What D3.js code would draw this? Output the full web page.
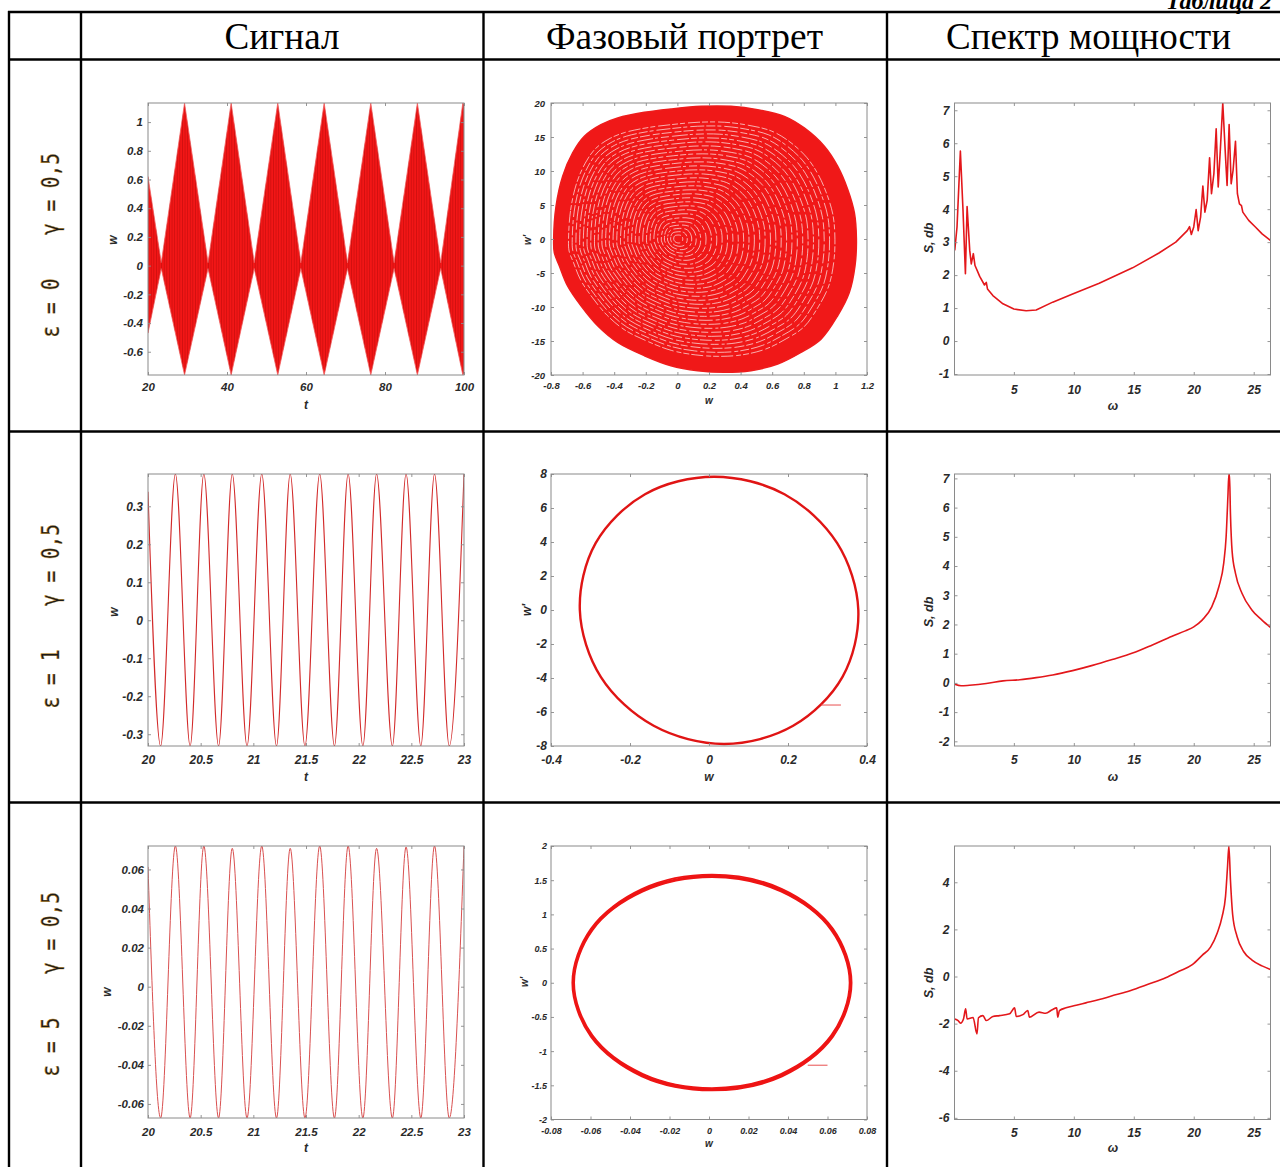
<!DOCTYPE html>
<html><head><meta charset="utf-8">
<script src="https://cdn.jsdelivr.net/npm/d3@7"></script>
<style>body{margin:0;background:#fff}svg{display:block}</style></head>
<body><svg id="c" width="1280" height="1167"></svg>
<script>
// ---------------- DATA ----------------
const columnTitles = ["Сигнал", "Фазовый портрет", "Спектр мощности"];
const rowEps = ["ε = 0", "ε = 1", "ε = 5"];
const rowGamma = ["γ = 0,5", "γ = 0,5", "γ = 0,5"];

// Row 1 signal: beating envelope (node / peak times and amplitudes)
const sig1T     = [20, 23.36, 29.25, 35.2, 41.05, 46.9, 52.85, 58.7, 64.6, 70.5, 76.4, 82.3, 88.2, 94.1, 99.7, 100];
const sig1Upper = [0.62, 0.02, 1.133, 0.02, 1.133, 0.02, 1.133, 0.02, 1.133, 0.02, 1.133, 0.02, 1.133, 0.02, 1.133, 1.12];
const sig1Lower = [-0.47, -0.02, -0.762, -0.02, -0.762, -0.02, -0.762, -0.02, -0.762, -0.02, -0.762, -0.02, -0.762, -0.02, -0.762, -0.75];

// Rows 2,3 signal: extrema times and values
const sigExtT = [20, 20.12, 20.26, 20.40, 20.53, 20.67, 20.80, 20.94, 21.08, 21.22, 21.35, 21.49, 21.63, 21.77, 21.90, 22.04, 22.17, 22.32, 22.45, 22.59, 22.72, 22.86, 23.0];
const sig2W = [0.338, -0.331, 0.385, -0.331, 0.385, -0.331, 0.385, -0.331, 0.385, -0.331, 0.385, -0.331, 0.385, -0.331, 0.385, -0.331, 0.385, -0.331, 0.385, -0.331, 0.385, -0.331, 0.385];
const sig3W = [0.0613, -0.0672, 0.072, -0.0672, 0.072, -0.0672, 0.0708, -0.0672, 0.072, -0.0672, 0.0708, -0.0672, 0.072, -0.0672, 0.072, -0.0672, 0.0708, -0.0672, 0.0715, -0.0672, 0.072, -0.0672, 0.072];

// Row 1 phase portrait: outer boundary of the filled spiral
const ph1W = [-0.783, -0.768, -0.726, -0.663, -0.589, -0.484, -0.378, -0.209, -0.041, 0.149, 0.339, 0.508, 0.677, 0.803, 0.930, 1.014, 1.078, 1.120, 1.133, 1.124, 1.088, 1.014, 0.909, 0.782, 0.635, 0.466, 0.297, 0.128, -0.041, -0.209, -0.378, -0.505, -0.610, -0.695, -0.747, -0.779];
const ph1V = [-0.05, 4.84, 9.24, 12.67, 15.11, 16.82, 17.80, 18.63, 19.12, 19.51, 19.51, 19.02, 18.04, 16.33, 13.64, 10.71, 7.29, 3.86, -0.05, -3.96, -7.87, -11.30, -14.72, -16.68, -18.39, -19.36, -19.61, -19.36, -18.63, -17.16, -15.21, -12.76, -9.83, -6.90, -3.96, -2.0];
const ph1Rings = [0.03, 0.055, 0.08, 0.105, 0.13, 0.16, 0.19, 0.22, 0.25, 0.28, 0.31, 0.34, 0.37, 0.40, 0.43, 0.46, 0.49, 0.52, 0.55, 0.58, 0.61, 0.64, 0.67, 0.70, 0.73, 0.76, 0.79, 0.82, 0.85, 0.88];

// Row 2 phase portrait: limit cycle
const ph2W = [0.378, 0.3245, 0.191, 0.013, -0.162, -0.287, -0.327, -0.274, -0.140, 0.039, 0.213, 0.338];
const ph2V = [0, 3.93, 6.81, 7.84, 6.81, 3.93, 0, -3.93, -6.81, -7.88, -6.81, -3.93];
const ph2SegW = [0.284, 0.334];
const ph2SegV = [-5.59, -5.59];

// Row 3 phase portrait: thick cycle (inner and outer edge)
const ph3W  = [0.0712, 0.0619, 0.0364, 0.0015, -0.0334, -0.0590, -0.0683, -0.0590, -0.0334, 0.0015, 0.0364, 0.0619];
const ph3V  = [0, 0.77, 1.335, 1.545, 1.335, 0.77, 0, -0.77, -1.335, -1.54, -1.335, -0.77];
const ph3Wb = [0.0722, 0.0628, 0.037, 0.0015, -0.034, -0.0598, -0.0692, -0.0598, -0.034, 0.0015, 0.037, 0.0628];
const ph3Vb = [0, 0.79, 1.37, 1.58, 1.37, 0.79, 0, -0.79, -1.37, -1.575, -1.37, -0.79];
const ph3SegW = [0.050, 0.060];
const ph3SegV = [-1.206, -1.206];

// Power spectra
const sp1W = [0.07, 0.26, 0.54, 0.76, 0.96, 1.1, 1.32, 1.45, 1.62, 1.76, 2.0, 2.15, 2.55, 2.7, 2.8, 3.25, 4.09, 5.0, 6.02, 6.86, 8.24, 9.9, 12.12, 14.9, 17.1, 18.5, 19.46, 19.65, 19.8, 20.0, 20.2, 20.37, 20.57, 20.76, 20.93, 21.12, 21.32, 21.48, 21.68, 21.87, 22.04, 22.23, 22.42, 22.65, 22.78, 22.95, 23.12, 23.28, 23.48, 23.64, 23.81, 23.98, 24.09, 24.58, 25.14, 25.7, 26.39];
const sp1S = [2.75, 3.46, 5.76, 3.96, 2.04, 4.08, 2.75, 2.34, 2.65, 2.29, 2.09, 1.96, 1.70, 1.78, 1.58, 1.38, 1.13, 0.97, 0.92, 0.94, 1.18, 1.43, 1.75, 2.22, 2.67, 3.0, 3.35, 3.47, 3.23, 3.46, 3.99, 3.35, 3.76, 4.70, 3.91, 4.27, 5.56, 4.47, 5.08, 6.44, 4.67, 5.89, 7.22, 5.58, 4.72, 6.57, 4.77, 5.18, 6.06, 4.47, 4.16, 4.11, 3.91, 3.66, 3.46, 3.25, 3.05];

const sp2W = [0.07, 0.6, 1.3, 2.7, 4.1, 5.5, 6.86, 8.24, 9.9, 11.56, 13.2, 14.9, 16.55, 18.2, 19.3, 20.0, 20.7, 21.5, 22.1, 22.5, 22.7, 22.85, 22.93, 22.98, 23.06, 23.2, 23.48, 24.03, 24.86, 25.69, 26.39];
const sp2S = [-0.05, -0.1, -0.08, -0.02, 0.07, 0.11, 0.18, 0.27, 0.42, 0.6, 0.8, 1.02, 1.3, 1.6, 1.78, 1.92, 2.15, 2.6, 3.3, 4.1, 5.0, 6.4, 7.15, 7.15, 5.8, 4.5, 3.75, 3.06, 2.49, 2.15, 1.9];

const sp3W = [0.07, 0.35, 0.55, 0.8, 0.98, 1.1, 1.6, 1.92, 2.05, 2.42, 2.7, 3.25, 3.8, 4.65, 5.06, 5.2, 5.75, 6.16, 6.3, 7.1, 7.65, 8.2, 8.57, 8.66, 8.8, 9.35, 10.2, 11.0, 12.12, 13.2, 14.34, 15.44, 16.55, 17.66, 18.77, 19.88, 20.7, 21.4, 21.96, 22.37, 22.65, 22.81, 22.93, 23.06, 23.25, 23.61, 24.17, 24.86, 25.69, 26.39];
const sp3S = [-1.80, -1.87, -1.98, -1.8, -1.37, -1.8, -1.74, -2.44, -1.75, -1.66, -1.87, -1.7, -1.66, -1.58, -1.33, -1.70, -1.62, -1.44, -1.73, -1.51, -1.56, -1.41, -1.33, -1.73, -1.45, -1.33, -1.22, -1.12, -0.98, -0.82, -0.66, -0.47, -0.27, -0.05, 0.22, 0.5, 0.9, 1.25, 1.85, 2.55, 3.4, 4.6, 5.54, 4.1, 2.6, 1.7, 1.05, 0.7, 0.45, 0.30];

// Tick values
const sig1XT = [20, 40, 60, 80, 100];
const sig1YT = [-0.6, -0.4, -0.2, 0, 0.2, 0.4, 0.6, 0.8, 1];
const sig2XT = [20, 20.5, 21, 21.5, 22, 22.5, 23];
const sig2YT = [-0.3, -0.2, -0.1, 0, 0.1, 0.2, 0.3];
const sig3YT = [-0.06, -0.04, -0.02, 0, 0.02, 0.04, 0.06];
const ph1XT = [-0.8, -0.6, -0.4, -0.2, 0, 0.2, 0.4, 0.6, 0.8, 1, 1.2];
const ph1YT = [-20, -15, -10, -5, 0, 5, 10, 15, 20];
const ph2XT = [-0.4, -0.2, 0, 0.2, 0.4];
const ph2YT = [-8, -6, -4, -2, 0, 2, 4, 6, 8];
const ph3XT = [-0.08, -0.06, -0.04, -0.02, 0, 0.02, 0.04, 0.06, 0.08];
const ph3YT = [-2, -1.5, -1, -0.5, 0, 0.5, 1, 1.5, 2];
const spXT = [5, 10, 15, 20, 25];
const sp1YT = [-1, 0, 1, 2, 3, 4, 5, 6, 7];
const sp2YT = [-2, -1, 0, 1, 2, 3, 4, 5, 6, 7];
const sp3YT = [-6, -4, -2, 0, 2, 4];

// ---------------- DRAW ----------------
const svg = d3.select("#c");
const defs = svg.append("defs");
const pat = defs.append("pattern").attr("id", "streaks").attr("patternUnits", "userSpaceOnUse")
  .attr("width", 2.6).attr("height", 10);
pat.append("rect").attr("x", 0).attr("y", 0).attr("width", 0.7).attr("height", 10).attr("fill", "#7a0000").attr("opacity", 0.35);

let clipN = 0;
const fmt = d => String(Math.round(d * 1000) / 1000);
const tickFont = "'Liberation Sans', Arial, sans-serif";

function panel(o) {
  const x = d3.scaleLinear().domain(o.xd).range([o.x0, o.x0 + o.w]);
  const y = d3.scaleLinear().domain(o.yd).range([o.y0 + o.h, o.y0]);
  const id = "clip" + (clipN++);
  defs.append("clipPath").attr("id", id).append("rect")
    .attr("x", o.x0).attr("y", o.y0).attr("width", o.w).attr("height", o.h);
  const g = svg.append("g");
  const plot = g.append("g").attr("clip-path", `url(#${id})`);
  o.draw(plot, x, y);

  const style = sel => {
    sel.select(".domain").remove();
    sel.selectAll(".tick line").attr("stroke", "#8a8a8a").attr("stroke-width", 0.9);
    sel.selectAll(".tick text").attr("fill", "#2a2a2a").attr("font-family", tickFont)
      .attr("font-weight", "bold").attr("font-style", "italic").attr("font-size", o.fs);
  };
  g.append("g").attr("transform", `translate(0,${o.y0 + o.h})`)
    .call(d3.axisBottom(x).tickValues(o.xt).tickFormat(fmt).tickSizeInner(-3).tickSizeOuter(0).tickPadding(o.xpad)).call(style);
  g.append("g").attr("transform", `translate(${o.x0},0)`)
    .call(d3.axisLeft(y).tickValues(o.yt).tickFormat(fmt).tickSizeInner(-3).tickSizeOuter(0).tickPadding(o.ypad)).call(style);
  g.append("g").attr("transform", `translate(0,${o.y0})`)
    .call(d3.axisTop(x).tickValues(o.xt).tickFormat("").tickSizeInner(-3).tickSizeOuter(0)).call(style);
  g.append("g").attr("transform", `translate(${o.x0 + o.w},0)`)
    .call(d3.axisRight(y).tickValues(o.yt).tickFormat("").tickSizeInner(-3).tickSizeOuter(0)).call(style);
  g.append("rect").attr("x", o.x0).attr("y", o.y0).attr("width", o.w).attr("height", o.h)
    .attr("fill", "none").attr("stroke", "#8a8a8a").attr("stroke-width", 1);

  const lab = (txt, cx, cy, rot) => g.append("text").text(txt)
    .attr("transform", `translate(${cx},${cy})` + (rot ? " rotate(-90)" : ""))
    .attr("text-anchor", "middle").attr("dominant-baseline", "central")
    .attr("font-family", tickFont).attr("font-weight", "bold").attr("font-style", "italic")
    .attr("font-size", o.lfs).attr("fill", "#2a2a2a");
  lab(o.xl, o.xlp[0], o.xlp[1], false);
  lab(o.yl, o.ylp[0], o.ylp[1], true);
}

const W = 316, H = 272;
const colX = [148, 551, 954.5];
const rowY = [103, 474, 846];

// ---- Signal row 1
panel({x0: colX[0], y0: rowY[0], w: W, h: H, xd: [20, 100], yd: [-0.762, 1.133], xt: sig1XT, yt: sig1YT,
  fs: 11.5, lfs: 12, xpad: 8, ypad: 5, xl: "t", yl: "w", xlp: [306, 405], ylp: [113, 240],
  draw: (p, x, y) => {
    const pts = sig1T.map((t, i) => ({t, u: sig1Upper[i], l: sig1Lower[i]}));
    const area = d3.area().x(d => x(d.t)).y0(d => y(d.l)).y1(d => y(d.u));
    p.append("path").attr("d", area(pts)).attr("fill", "#f21616").attr("stroke", "#f36060").attr("stroke-width", 0.8);
    p.append("path").attr("d", area(pts)).attr("fill", "url(#streaks)");
  }});

// ---- Signal row 2
panel({x0: colX[0], y0: rowY[1], w: W, h: H, xd: [20, 23], yd: [-0.331, 0.385], xt: sig2XT, yt: sig2YT,
  fs: 12, lfs: 12, xpad: 9, ypad: 5, xl: "t", yl: "w", xlp: [306, 777], ylp: [114, 612],
  draw: (p, x, y) => {
    const line = d3.line().x((d, i) => x(sigExtT[i])).y(d => y(d)).curve(d3.curveMonotoneX);
    p.append("path").attr("d", line(sig2W)).attr("fill", "none").attr("stroke", "#d22a2a").attr("stroke-width", 1.1);
  }});

// ---- Signal row 3
panel({x0: colX[0], y0: rowY[2], w: W, h: H, xd: [20, 23], yd: [-0.0672, 0.072], xt: sig2XT, yt: sig3YT,
  fs: 11.5, lfs: 12, xpad: 10, ypad: 4, xl: "t", yl: "w", xlp: [306, 1148], ylp: [107, 992],
  draw: (p, x, y) => {
    const line = d3.line().x((d, i) => x(sigExtT[i])).y(d => y(d)).curve(d3.curveMonotoneX);
    p.append("path").attr("d", line(sig3W)).attr("fill", "none").attr("stroke", "#d95050").attr("stroke-width", 1);
  }});

// ---- Phase row 1
panel({x0: colX[1], y0: rowY[0], w: W, h: H, xd: [-0.8, 1.2], yd: [-20, 20], xt: ph1XT, yt: ph1YT,
  fs: 9.5, lfs: 10, xpad: 7, ypad: 6, xl: "w", yl: "w'", xlp: [709, 400], ylp: [527, 240],
  draw: (p, x, y) => {
    const pts = ph1W.map((w, i) => [w, ph1V[i]]);
    const outline = d3.line().x(d => x(d[0])).y(d => y(d[1])).curve(d3.curveCatmullRomClosed.alpha(0.5));
    p.append("path").attr("d", outline(pts)).attr("fill", "#f01818").attr("stroke", "#ee1c1c").attr("stroke-width", 1.5);
    const dashes = ["9 2 4 3 14 2", "5 3 12 2 6 2", "16 2 3 3 8 3", "7 2 10 3"];
    ph1Rings.forEach((s, k) => {
      const ring = d3.line().x(d => x(d[0] * s)).y(d => y(d[1] * s)).curve(d3.curveCatmullRomClosed.alpha(0.5));
      p.append("path").attr("d", ring(pts)).attr("fill", "none").attr("stroke", "#ffffff")
        .attr("stroke-width", 0.9).attr("opacity", 0.72)
        .attr("stroke-dasharray", dashes[k % dashes.length]).attr("stroke-dashoffset", k * 7);
    });
  }});

// ---- Phase row 2
panel({x0: colX[1], y0: rowY[1], w: W, h: H, xd: [-0.4, 0.4], yd: [-8, 8], xt: ph2XT, yt: ph2YT,
  fs: 12, lfs: 12, xpad: 9, ypad: 4, xl: "w", yl: "w'", xlp: [709, 777], ylp: [527, 610],
  draw: (p, x, y) => {
    const pts = ph2W.map((w, i) => [w, ph2V[i]]);
    const ln = d3.line().x(d => x(d[0])).y(d => y(d[1])).curve(d3.curveCatmullRomClosed.alpha(0.5));
    p.append("path").attr("d", ln(pts)).attr("fill", "none").attr("stroke", "#e01414").attr("stroke-width", 2.4);
    const seg = ph2SegW.map((w, i) => [w, ph2SegV[i]]);
    p.append("path").attr("d", d3.line().x(d => x(d[0])).y(d => y(d[1]))(seg)).attr("stroke", "#e85050").attr("stroke-width", 1);
  }});

// ---- Phase row 3
panel({x0: colX[1], y0: rowY[2], w: W, h: H + 1.5, xd: [-0.08, 0.08], yd: [-2, 2], xt: ph3XT, yt: ph3YT,
  fs: 9, lfs: 10, xpad: 8, ypad: 4, xl: "w", yl: "w'", xlp: [709, 1143], ylp: [524, 982],
  draw: (p, x, y) => {
    const ln = d3.line().x(d => x(d[0])).y(d => y(d[1])).curve(d3.curveCatmullRomClosed.alpha(0.5));
    const inner = ln(ph3W.map((w, i) => [w, ph3V[i]]));
    const outer = ln(ph3Wb.map((w, i) => [w, ph3Vb[i]]));
    p.append("path").attr("d", outer + inner).attr("fill", "#ee1414").attr("fill-rule", "evenodd")
      .attr("stroke", "#ee1414").attr("stroke-width", 1.8);
    const seg = ph3SegW.map((w, i) => [w, ph3SegV[i]]);
    p.append("path").attr("d", d3.line().x(d => x(d[0])).y(d => y(d[1]))(seg)).attr("stroke", "#e85050").attr("stroke-width", 1);
  }});

// ---- Spectra
function spectrum(row, ws, ss, yd, yt, fs, xpad, xlp, ylp, curve) {
  panel({x0: colX[2], y0: rowY[row], w: W, h: H + (row === 2 ? 1.5 : 0), xd: [0.05, 26.4], yd, xt: spXT, yt,
    fs, lfs: 12.5, xpad, ypad: 5, xl: "ω", yl: "S, db", xlp, ylp,
    draw: (p, x, y) => {
      const ln = d3.line().x((d, i) => x(ws[i])).y(d => y(d)).curve(curve);
      p.append("path").attr("d", ln(ss)).attr("fill", "none").attr("stroke", "#e3171b")
        .attr("stroke-width", 1.6).attr("stroke-linejoin", "round");
    }});
}
spectrum(0, sp1W, sp1S, [-1.03, 7.22], sp1YT, 12, 10, [1113, 406], [929, 238], d3.curveLinear);
spectrum(1, sp2W, sp2S, [-2.16, 7.15], sp2YT, 12, 9, [1113, 777], [929, 612], d3.curveMonotoneX);
spectrum(2, sp3W, sp3S, [-6.07, 5.54], sp3YT, 12, 9, [1113, 1148], [929, 983], d3.curveMonotoneX);

// ---------------- TABLE ----------------
const T = svg.append("g");
const lineSty = s => s.attr("stroke", "#000").attr("stroke-width", 2.4);
[9, 81, 483.5, 887].forEach(xv => T.append("line").attr("x1", xv).attr("x2", xv).attr("y1", 11).attr("y2", 1167).call(lineSty));
[12, 59.5, 431.5, 802.5].forEach(yv => T.append("line").attr("x1", 8).attr("x2", 1280).attr("y1", yv).attr("y2", yv).call(lineSty));

const titleCx = [282, 684.5, 1088.5];
const titleLen = [115, 277, 285];
columnTitles.forEach((t, i) => T.append("text").text(t)
  .attr("x", titleCx[i]).attr("y", 49).attr("text-anchor", "middle")
  .attr("font-family", "'Liberation Serif', 'Times New Roman', serif").attr("font-size", 38)
  .attr("textLength", titleLen[i]).attr("lengthAdjust", "spacingAndGlyphs").attr("fill", "#000"));

T.append("text").text("Таблица 2").attr("x", 1272).attr("y", 9).attr("text-anchor", "end")
  .attr("font-family", "'Liberation Serif', serif").attr("font-style", "italic").attr("font-weight", "bold")
  .attr("font-size", 24).attr("fill", "#000");

const rowCy = [245, 616, 984];
rowCy.forEach((cy, i) => {
  const mk = (txt, off, len) => T.append("text").text(txt)
    .attr("transform", `translate(50,${cy + off}) rotate(-90)`)
    .attr("text-anchor", "middle").attr("dominant-baseline", "central")
    .attr("font-family", "'DejaVu Sans Mono', monospace").attr("font-size", 25)
    .attr("textLength", len).attr("lengthAdjust", "spacingAndGlyphs")
    .attr("fill", "#1a1a1a").attr("stroke", "#c08a20").attr("stroke-width", 0.4);
  mk(rowEps[i], 63, 59);
  mk(rowGamma[i], -51, 82);
});
</script></body></html>
